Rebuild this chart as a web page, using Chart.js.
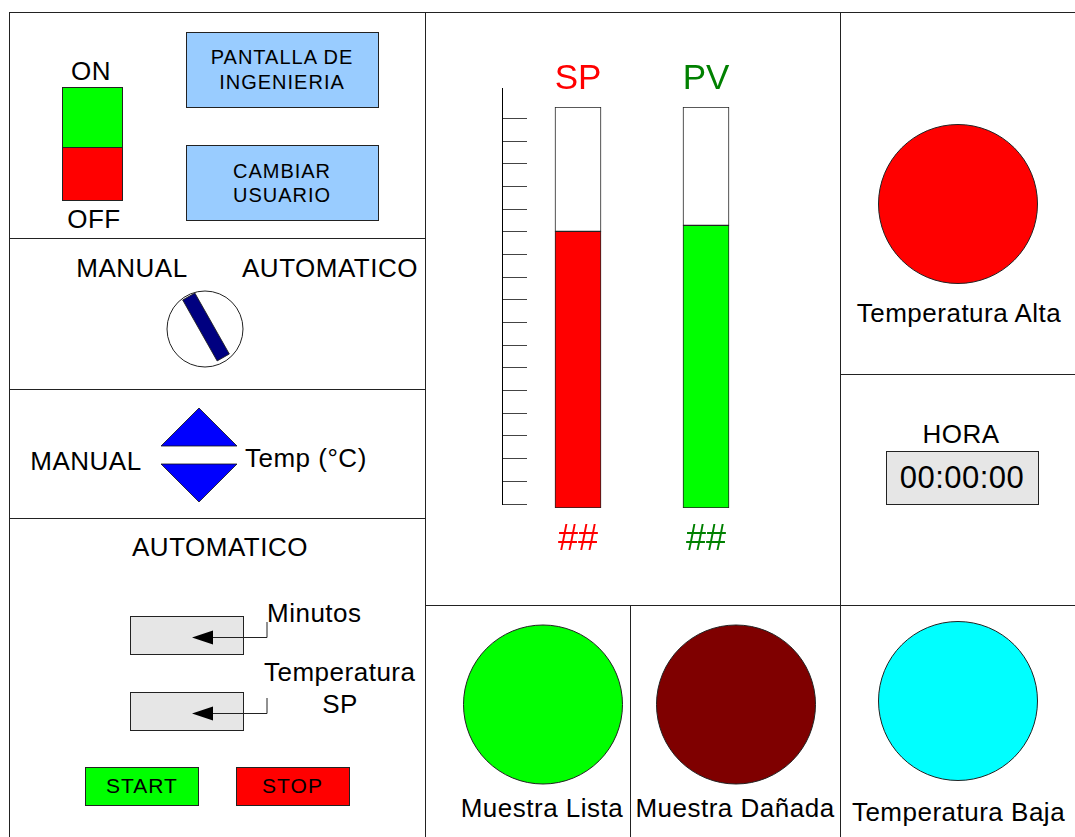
<!DOCTYPE html>
<html lang="es">
<head>
  <meta charset="UTF-8" />
  <title>Panel HMI</title>
  <script src="https://cdn.jsdelivr.net/npm/chart.js"></script>
  <style>
    body {
      margin: 0;
      width: 1075px;
      height: 837px;
      overflow: hidden;
      background: #fff;
      font-family: "Liberation Sans", Arial, sans-serif;
    }
    #panel {
      position: absolute;
      left: 0;
      top: 0;
    }
    #regla {
      position: absolute;
      left: 490px;
      top: 80px;
    }
    #barras {
      position: absolute;
      left: 425px;
      top: 12px;
    }
    svg text {
      font-family: "Liberation Sans", Arial, sans-serif;
      fill: #000;
      letter-spacing: 0.5px;
    }
    svg text.btn {
      letter-spacing: 1px;
    }
  </style>
</head>
<body>
  <svg id="panel" width="1075" height="837" viewBox="0 0 1075 837">
    <g stroke="#222" stroke-width="1" fill="none">
      <line x1="9.5" y1="12" x2="9.5" y2="837" />
      <line x1="425.5" y1="12" x2="425.5" y2="837" />
      <line x1="840.5" y1="12" x2="840.5" y2="837" />
      <line x1="9" y1="12.5" x2="1075" y2="12.5" />
      <line x1="9" y1="238.5" x2="425" y2="238.5" />
      <line x1="9" y1="389.5" x2="425" y2="389.5" />
      <line x1="9" y1="518.5" x2="425" y2="518.5" />
      <line x1="425" y1="605.5" x2="1075" y2="605.5" />
      <line x1="630.5" y1="606" x2="630.5" y2="837" />
      <line x1="840" y1="374.5" x2="1075" y2="374.5" />
    </g>

    <!-- interruptor ON/OFF -->
    <rect x="62.5" y="87.5" width="60" height="60" fill="#00ff00" stroke="#222" />
    <rect x="62.5" y="147.5" width="60" height="53" fill="#ff0000" stroke="#222" />
    <text x="91" y="80" font-size="26" text-anchor="middle">ON</text>
    <text x="94" y="228" font-size="26" text-anchor="middle">OFF</text>

    <!-- botones azules -->
    <rect x="186.5" y="32.5" width="192" height="75" fill="#99ccff" stroke="#222" />
    <text class="btn" x="282" y="64" font-size="20" text-anchor="middle">PANTALLA DE</text>
    <text class="btn" x="282" y="89" font-size="20" text-anchor="middle">INGENIERIA</text>
    <rect x="186.5" y="145.5" width="192" height="75" fill="#99ccff" stroke="#222" />
    <text class="btn" x="282" y="178" font-size="20" text-anchor="middle">CAMBIAR</text>
    <text class="btn" x="282" y="202" font-size="20" text-anchor="middle">USUARIO</text>

    <!-- selector manual / automatico -->
    <text x="132" y="277" font-size="26" text-anchor="middle">MANUAL</text>
    <text x="330" y="277" font-size="26" text-anchor="middle">AUTOMATICO</text>
    <circle cx="205" cy="329" r="38" fill="#fff" stroke="#222" />
    <rect x="199" y="292" width="14" height="70" fill="#000080" stroke="#222" stroke-width="0.8"
          transform="rotate(-29.5 206 327)" />

    <!-- flechas manual -->
    <text x="86" y="470" font-size="26" text-anchor="middle">MANUAL</text>
    <polygon points="199,408 161,446 237,446" fill="#0000ff" stroke="#111" stroke-width="0.8" />
    <polygon points="161,464 237,464 199,502" fill="#0000ff" stroke="#111" stroke-width="0.8" />
    <text x="245" y="467" font-size="26">Temp (°C)</text>

    <!-- automatico -->
    <text x="220" y="556" font-size="26" text-anchor="middle">AUTOMATICO</text>
    <rect x="130.5" y="616.5" width="113" height="38" fill="#e6e6e6" stroke="#222" />
    <rect x="130.5" y="692.5" width="113" height="38" fill="#e6e6e6" stroke="#222" />
    <polyline points="267,622 267,637.5 212,637.5" fill="none" stroke="#222" />
    <polygon points="192,637.5 213,630.5 213,644.5" fill="#000" />
    <polyline points="267,698 267,713.5 212,713.5" fill="none" stroke="#222" />
    <polygon points="192,713.5 213,706.5 213,720.5" fill="#000" />
    <text x="267" y="622" font-size="26">Minutos</text>
    <text x="264" y="681" font-size="26">Temperatura</text>
    <text x="340" y="713" font-size="26" text-anchor="middle">SP</text>

    <rect x="85.5" y="767.5" width="113" height="38" fill="#00ff00" stroke="#222" />
    <text class="btn" x="142" y="793" font-size="21" text-anchor="middle">START</text>
    <rect x="236.5" y="767.5" width="113" height="38" fill="#ff0000" stroke="#222" />
    <text class="btn" x="292.5" y="793" font-size="21" text-anchor="middle">STOP</text>

    <!-- alarmas -->
    <circle cx="958" cy="204" r="79.5" fill="#ff0000" stroke="#222" />
    <text x="959" y="322" font-size="26" text-anchor="middle">Temperatura Alta</text>

    <text x="961" y="443" font-size="26" text-anchor="middle">HORA</text>
    <rect x="886.5" y="451.5" width="152" height="53" fill="#e6e6e6" stroke="#222" />
    <text x="962" y="488" font-size="31" text-anchor="middle">00:00:00</text>

    <circle cx="543" cy="704.5" r="79.5" fill="#00ff00" stroke="#222" />
    <text x="542" y="817" font-size="26" text-anchor="middle">Muestra Lista</text>
    <circle cx="736" cy="704.5" r="79.5" fill="#7f0000" stroke="#222" />
    <text x="735" y="817" font-size="26" text-anchor="middle">Muestra Dañada</text>
    <circle cx="958" cy="701" r="79.5" fill="#00ffff" stroke="#222" />
    <text x="958.5" y="821" font-size="26" text-anchor="middle">Temperatura Baja</text>
  </svg>

  <canvas id="regla" width="50" height="440"></canvas>
  <canvas id="barras" width="415" height="593"></canvas>

  <script>
    const fuente = '"Liberation Sans", Arial, sans-serif';

    // barras SP / PV (0-100 %)
    const categorias = ['SP', 'PV'];
    const valores = [69, 70.5];
    const escalaMax = [100, 100];
    const coloresBarra = ['#ff0000', '#00ff00'];
    const coloresTexto = ['#ff0000', '#008000'];
    const lecturas = ['##', '##'];

    // regla de la izquierda
    const reglaMin = 0;
    const reglaMax = 18.35;
    const reglaPaso = 1;

    Chart.defaults.font.family = fuente;

    new Chart(document.getElementById('regla'), {
      type: 'bar',
      data: { labels: [''], datasets: [] },
      options: {
        responsive: false,
        animation: false,
        layout: { padding: { left: 12, right: 13, top: 8, bottom: 16 } },
        plugins: { legend: { display: false }, tooltip: { enabled: false } },
        scales: {
          x: { display: false },
          y: {
            min: reglaMin,
            max: reglaMax,
            ticks: { display: false, stepSize: reglaPaso },
            grid: { color: '#444', lineWidth: 1, drawTicks: false },
            border: { display: true, color: '#000', width: 1 },
            afterBuildTicks: s => { s.ticks = s.ticks.filter(t => Number.isInteger(t.value)); },
            afterFit: s => { s.width = 0; }
          }
        }
      }
    });

    new Chart(document.getElementById('barras'), {
      type: 'bar',
      data: {
        labels: categorias,
        datasets: [
          {
            label: 'Valor',
            data: valores,
            backgroundColor: coloresBarra,
            borderColor: '#222',
            borderWidth: 1,
            borderSkipped: false,
            barThickness: 46
          },
          {
            label: 'Resto',
            data: escalaMax.map((m, i) => m - valores[i]),
            backgroundColor: '#ffffff',
            borderColor: '#222',
            borderWidth: 1,
            borderSkipped: false,
            barThickness: 46
          }
        ]
      },
      options: {
        responsive: false,
        animation: false,
        layout: { padding: { left: 89, right: 70, top: 0, bottom: 0 } },
        plugins: { legend: { display: false }, tooltip: { enabled: false } },
        scales: {
          x: {
            position: 'top',
            stacked: true,
            offset: true,
            grid: { display: false, drawTicks: false },
            border: { display: false },
            ticks: {
              color: ctx => coloresTexto[ctx.index],
              font: { size: 35 },
              padding: 7,
              maxRotation: 0
            },
            afterFit: s => { s.height = 95; }
          },
          x2: {
            type: 'category',
            labels: lecturas,
            position: 'bottom',
            offset: true,
            grid: { display: false, drawTicks: false },
            border: { display: false },
            ticks: {
              color: ctx => coloresTexto[ctx.index],
              font: { size: 36 },
              padding: 10,
              maxRotation: 0
            },
            afterFit: s => { s.height = 97; }
          },
          y: {
            display: false,
            stacked: true,
            min: 0,
            max: 100
          }
        }
      }
    });
  </script>
</body>
</html>
